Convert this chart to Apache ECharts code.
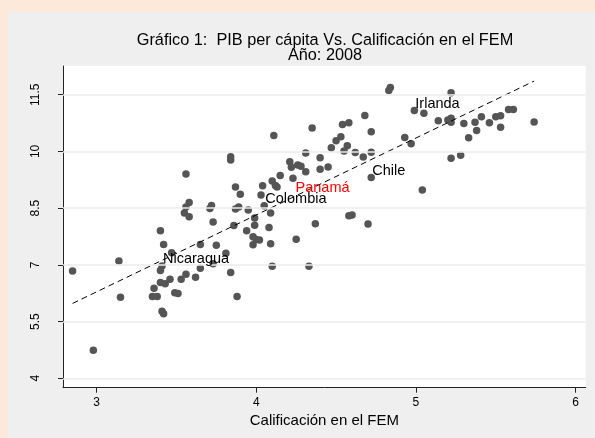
<!DOCTYPE html>
<html>
<head>
<meta charset="utf-8">
<script src="https://cdn.jsdelivr.net/npm/echarts@6/dist/echarts.min.js"></script>
<style>
html,body{margin:0;padding:0;background:#efefef;}
#chart{width:595px;height:438px;}
</style>
</head>
<body>
<div id="chart"></div>
<script>
// Title lines
var titleLines = ['Gráfico 1:  PIB per cápita Vs. Calificación en el FEM', 'Año: 2008'];
var xAxisTitle = 'Calificación en el FEM';

// Axis ticks
var xTicks = [3, 4, 5, 6];
var yTicks = [4, 5.5, 7, 8.5, 10, 11.5];

// Scatter points: [Calificación en el FEM, PIB per cápita (log)]
var femScore = [2.85,2.98,3.14,3.15,3.40,3.42,3.47,3.41,3.40,3.40,3.43,3.46,3.36,3.35,3.38,3.49,3.51,3.41,3.42,3.53,
  3.56,3.62,3.65,3.65,3.56,3.58,3.56,3.55,3.58,3.71,3.72,3.73,3.75,3.81,3.73,3.84,3.88,3.84,3.84,3.87,
  3.90,3.87,3.89,3.95,3.86,3.94,3.98,4.00,4.02,3.98,3.99,3.99,4.04,4.03,4.05,4.09,4.08,4.09,4.10,4.11,
  4.10,4.12,4.13,4.15,4.21,4.22,4.26,4.28,4.31,4.23,4.31,4.35,4.40,4.40,4.45,4.25,4.37,4.33,4.47,4.50,
  4.53,4.54,4.58,4.57,4.55,4.62,4.67,4.72,4.72,4.68,4.72,4.58,4.60,4.70,4.83,4.84,4.93,4.97,4.99,5.05,
  5.04,5.22,5.14,5.20,5.22,5.22,5.30,5.37,5.41,5.46,5.38,5.33,5.50,5.53,5.53,5.58,5.61,5.74,5.22,5.28];
var pibPerCapita = [6.84,4.74,7.10,6.14,7.90,7.54,7.32,6.97,6.85,6.53,6.50,6.62,6.38,6.16,6.16,6.26,6.24,5.77,5.71,6.62,
  6.75,6.67,6.91,7.54,9.40,8.65,8.53,8.37,8.27,8.49,8.57,8.13,7.52,7.31,7.03,6.80,6.16,9.86,9.77,9.06,
  8.87,8.48,8.53,8.45,8.04,7.90,7.74,7.67,7.66,7.53,8.05,8.24,9.09,8.85,8.56,8.37,7.99,7.56,6.96,10.42,
  9.22,9.10,9.06,9.36,9.73,9.58,9.64,9.61,9.46,9.29,9.96,10.62,9.83,9.53,9.59,7.68,8.09,6.96,10.10,10.28,
  10.39,10.71,10.76,10.15,10.01,9.97,9.85,9.98,10.52,10.95,9.31,8.30,8.32,8.08,11.61,11.69,10.37,10.20,11.08,11.01,
  8.98,11.55,10.81,10.83,10.88,10.77,10.74,10.77,10.92,10.76,10.55,10.36,10.92,10.94,10.64,11.11,11.11,10.78,9.82,9.90];

// Labelled countries
var labelNames = ['Irlanda', 'Chile', 'Panamá', 'Colombia', 'Nicaragua'];
var labelFem = [4.99, 4.72, 4.24, 4.05, 3.41];
var labelPib = [11.08, 9.31, 8.85, 8.56, 6.97];
var labelColors = ['#000000', '#000000', '#ff0000', '#000000', '#000000'];

// Fitted line endpoints
var fitFem = [2.85, 5.74];
var fitPib = [5.98, 11.86];

var chart = echarts.init(document.getElementById('chart'), null, {renderer: 'canvas'});

var points = femScore.map(function (x, i) { return [x, pibPerCapita[i]]; });
var fitData = fitFem.map(function (x, i) { return [x, fitPib[i]]; });
var labelData = labelNames.map(function (n, i) {
  return {
    value: [labelFem[i], labelPib[i]],
    name: n,
    label: {color: labelColors[i]}
  };
});

var font = 'Liberation Sans, Arial, Helvetica, sans-serif';

chart.setOption({
  backgroundColor: '#efefef',
  animation: false,
  textStyle: {fontFamily: font},
  graphic: [
    {type: 'rect', shape: {x: 0, y: 0, width: 595, height: 12}, style: {fill: '#fde9d9'}, silent: true},
    {type: 'rect', shape: {x: 0, y: 0, width: 8, height: 438}, style: {fill: '#fde9d9'}, silent: true}
  ],
  title: [
    {text: titleLines[0], left: 325, top: 31.5, textAlign: 'center',
     textStyle: {fontSize: 16.3, fontWeight: 'normal', color: '#000', fontFamily: font, lineHeight: 18}, padding: 0},
    {text: titleLines[1], left: 325, top: 46.5, textAlign: 'center',
     textStyle: {fontSize: 16.3, fontWeight: 'normal', color: '#000', fontFamily: font, lineHeight: 18}, padding: 0}
  ],
  grid: {left: 63, right: 9.3, top: 66, bottom: 50.3, show: true, backgroundColor: '#ffffff', borderWidth: 0},
  xAxis: {
    type: 'value', min: 2.79, max: 6.063,
    name: xAxisTitle, nameLocation: 'middle', nameGap: 22,
    nameTextStyle: {fontSize: 15, color: '#000', fontFamily: font},
    axisLine: {show: true, onZero: false, lineStyle: {color: '#222', width: 1}},
    axisTick: {show: true, length: 5, customValues: xTicks, lineStyle: {color: '#222'}},
    axisLabel: {customValues: xTicks, fontSize: 12, color: '#000', margin: 9, fontFamily: font},
    splitLine: {show: false}
  },
  yAxis: {
    type: 'value', min: 3.751, max: 12.259,
    axisLine: {show: true, onZero: false, lineStyle: {color: '#222', width: 1}},
    axisTick: {show: true, length: 5, customValues: yTicks, lineStyle: {color: '#222'}},
    axisLabel: {customValues: yTicks, fontSize: 12, color: '#000', rotate: 90, margin: 21, fontFamily: font},
    splitLine: {show: false}
  },
  series: [
    {
      type: 'line', data: [], z: 1, silent: true,
      markLine: {
        silent: true, symbol: 'none', label: {show: false},
        lineStyle: {color: '#ebebeb', width: 1.5, type: 'solid'},
        data: yTicks.map(function (v) { return {yAxis: v}; })
      }
    },
    {
      type: 'scatter', data: points, symbol: 'circle', symbolSize: 7.5, z: 3,
      itemStyle: {color: '#555555', opacity: 1}
    },
    {
      type: 'line', data: fitData, symbol: 'none', z: 4, silent: true,
      lineStyle: {color: '#000', width: 1, type: [6, 4]}
    },
    {
      type: 'scatter', data: labelData, symbol: 'circle', symbolSize: 0.01, z: 5, silent: true,
      itemStyle: {color: '#555555', opacity: 1},
      label: {show: true, position: 'right', distance: 0, offset: [1, -6.5], opacity: 1,
        textBorderWidth: 0, formatter: '{b}', fontSize: 14.5, fontFamily: font}
    }
  ]
});
</script>
</body>
</html>
